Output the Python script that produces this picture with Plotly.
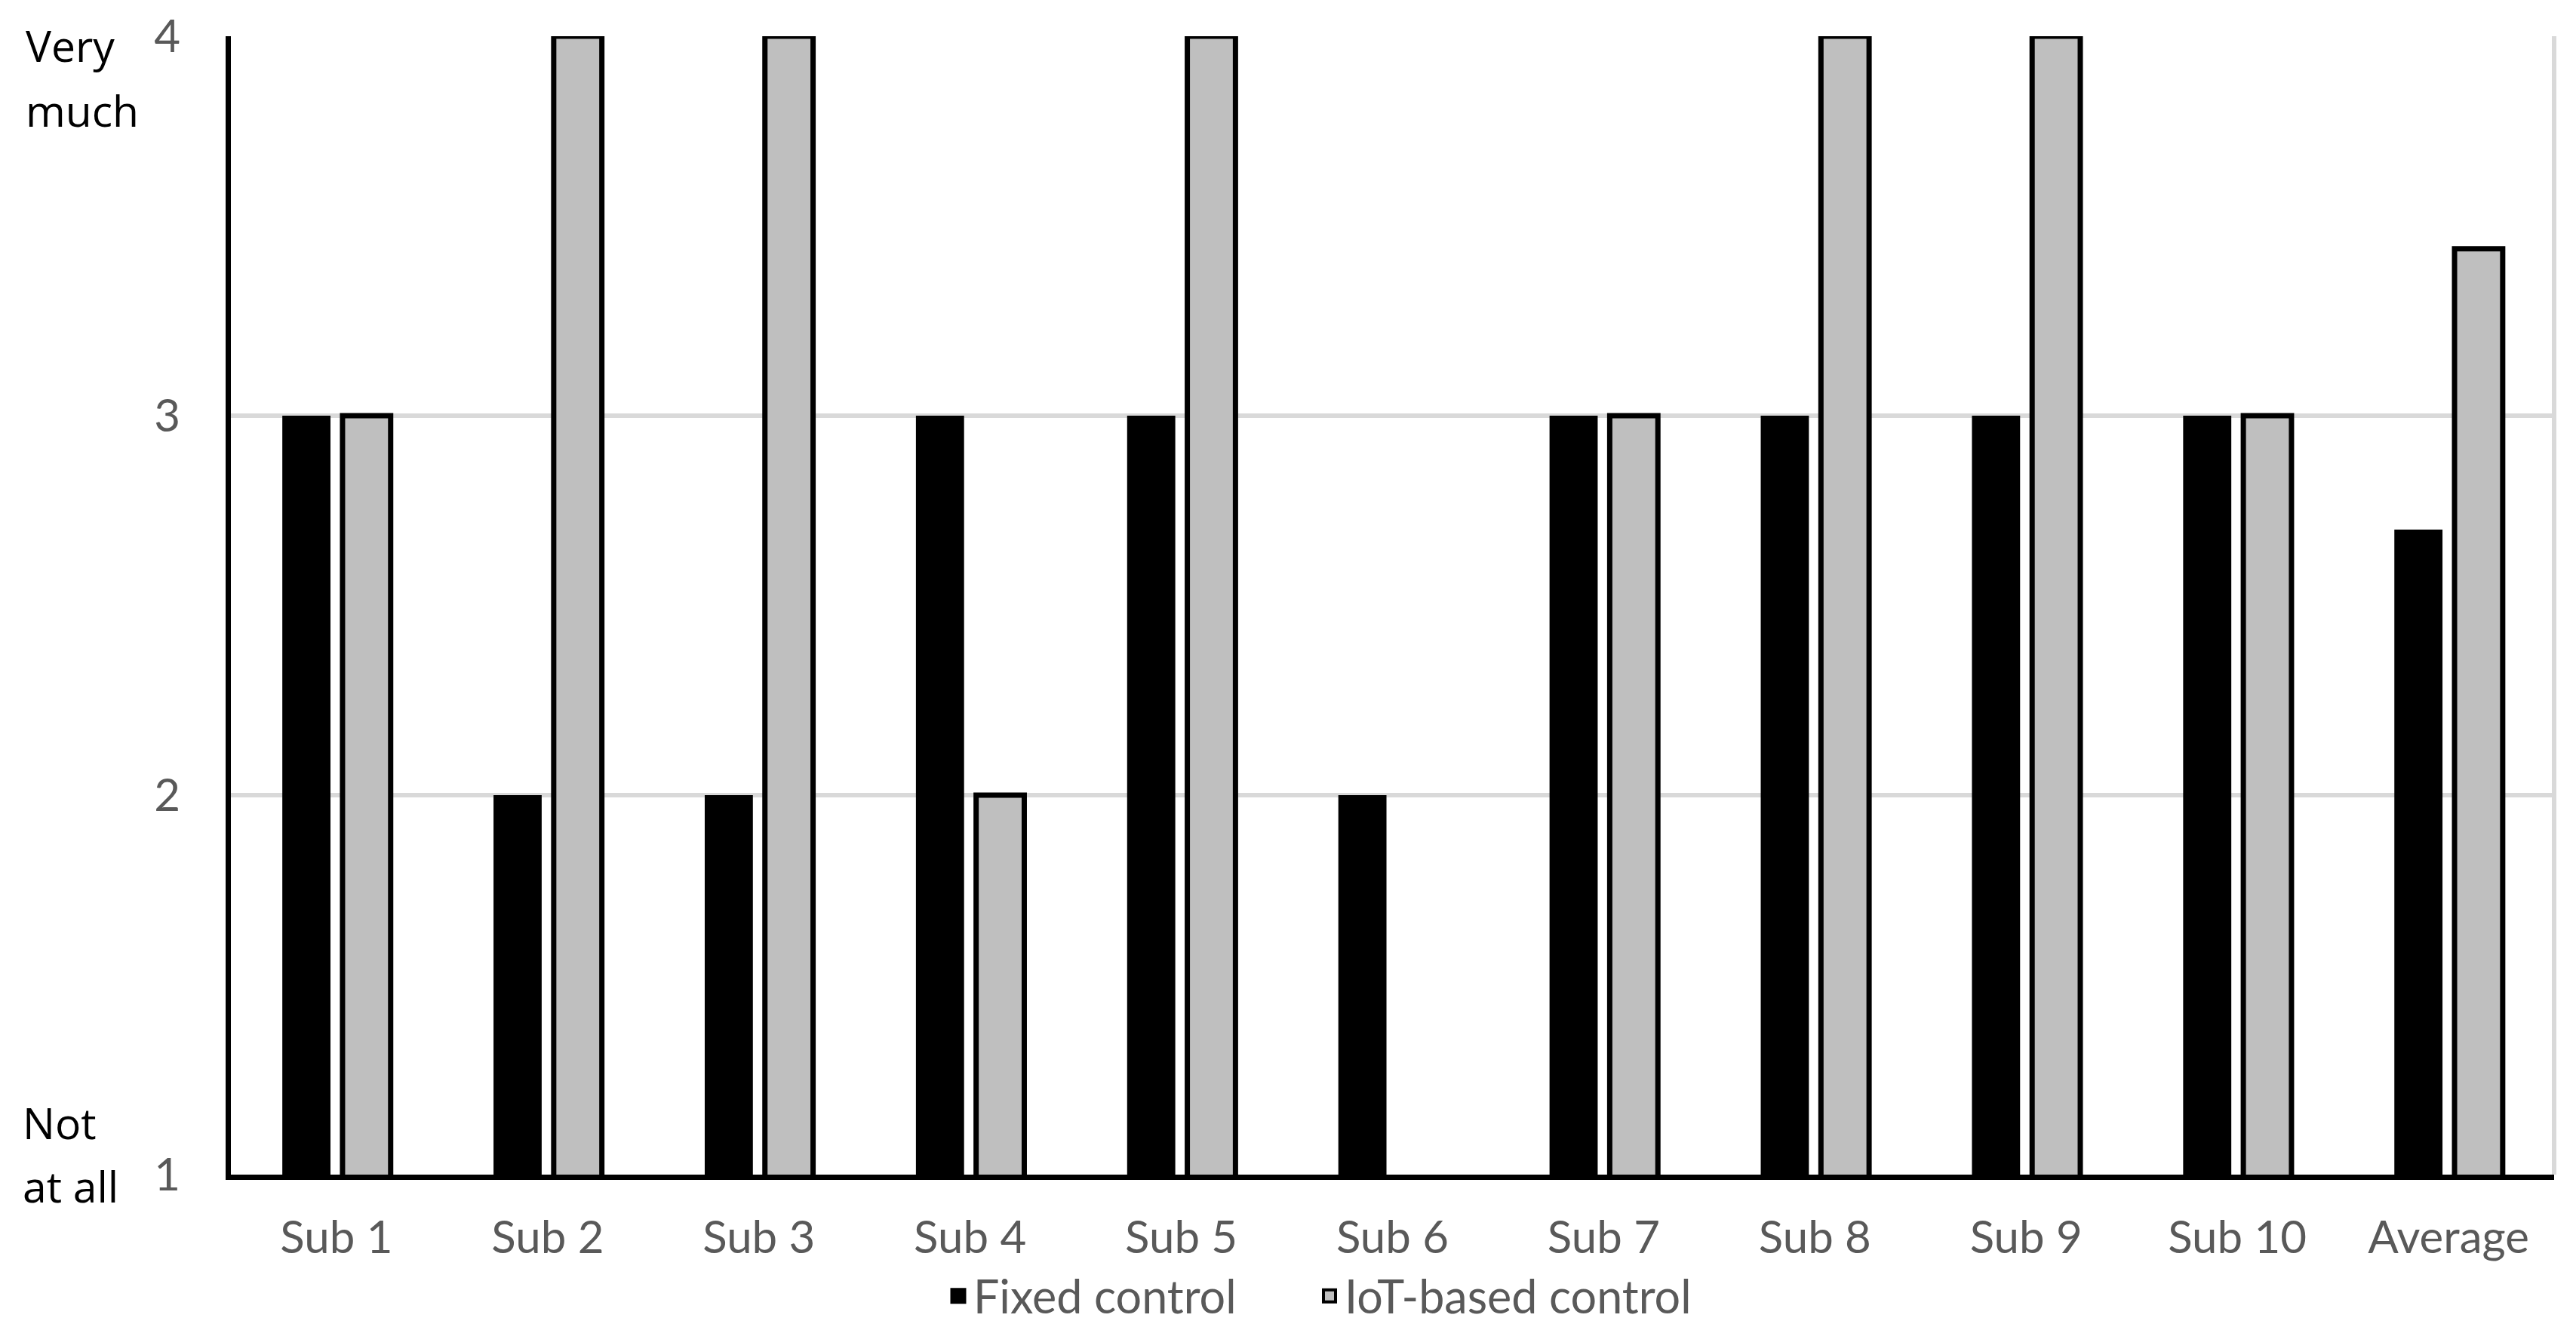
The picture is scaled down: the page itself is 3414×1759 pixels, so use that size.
import plotly.graph_objects as go

categories = ["Sub 1", "Sub 2", "Sub 3", "Sub 4", "Sub 5", "Sub 6", "Sub 7", "Sub 8", "Sub 9", "Sub 10", "Average"]
fixed_control = [3, 2, 2, 3, 3, 2, 3, 3, 3, 3, 2.7]
iot_control = [3, 4, 4, 2, 4, None, 3, 4, 4, 3, 3.44]
y_ticks = [1, 2, 3, 4]
series_names = ["Fixed control", "IoT-based control"]

W, H = 3414, 1759
ML, MR, MT, MB = 306, 29, 48, 202
PW = W - ML - MR
PH = H - MT - MB

fixed_style = dict(color="#000000", line=dict(width=0))
iot_style = dict(color="#BFBFBF", line=dict(color="#000000", width=7))

fig = go.Figure()
fig.add_trace(go.Bar(
    x=categories, y=fixed_control, name=series_names[0], legendgroup="f",
    showlegend=False, marker=fixed_style,
))
fig.add_trace(go.Bar(
    x=categories, y=iot_control, name=series_names[1], legendgroup="i",
    showlegend=False, marker=iot_style,
))
# legend entries (square swatches), one legend box per series
fig.add_trace(go.Scatter(
    x=[None], y=[None], mode="markers", name=series_names[0], legendgroup="f",
    legend="legend",
    marker=dict(symbol="square", size=30, color="#000000", line=dict(color="#000000", width=5)),
))
fig.add_trace(go.Scatter(
    x=[None], y=[None], mode="markers", name=series_names[1], legendgroup="i",
    legend="legend2",
    marker=dict(symbol="square", size=30, color="#BFBFBF", line=dict(color="#000000", width=4)),
))

tick_font = dict(family="Lato, Carlito, Calibri, sans-serif", size=60, color="#595959")
legend_font = dict(family="Lato, Carlito, Calibri, sans-serif", size=61, color="#595959")
side_font = dict(family="Open Sans, Noto Sans, sans-serif", size=57, color="#000000")


def py(full_y):
    return 1 - (full_y - MT) / PH


def px(full_x):
    return (full_x - ML) / PW


def legend_box(x_full):
    return dict(
        orientation="h", xref="paper", x=px(x_full), xanchor="left",
        yref="container", y=(H - 1718) / H, yanchor="middle",
        bgcolor="rgba(0,0,0,0)", font=legend_font,
        itemsizing="trace", tracegroupgap=0,
    )


fig.update_layout(
    width=W, height=H,
    margin=dict(l=ML, r=MR, t=MT, b=MB, autoexpand=False),
    paper_bgcolor="white", plot_bgcolor="white",
    barmode="group", bargap=0.43, bargroupgap=0.2,
    showlegend=True,
    legend=legend_box(1250),
    legend2=legend_box(1742),
    xaxis=dict(
        showgrid=False, showline=True, linecolor="#000000", linewidth=7,
        ticks="", tickfont=tick_font, ticklabelstandoff=25,
    ),
    yaxis=dict(
        range=[1, 4], tickvals=y_ticks, ticktext=[str(v) for v in y_ticks],
        showgrid=True, gridcolor="#D9D9D9", gridwidth=6,
        showline=True, linecolor="#000000", linewidth=7,
        zeroline=False, ticks="", tickfont=tick_font, ticklabelstandoff=48,
    ),
    shapes=[
        dict(type="line", xref="paper", yref="paper", x0=1, x1=1, y0=0, y1=1,
             line=dict(color="#D9D9D9", width=6), layer="below"),
    ],
    annotations=[
        dict(text=t, xref="paper", yref="paper", x=px(xx), y=py(yy),
             xanchor="left", yanchor="middle", showarrow=False, font=side_font)
        for t, xx, yy in [
            ("Very", 32, 60),
            ("much", 32, 146),
            ("Not", 28, 1488),
            ("at all", 28, 1572),
        ]
    ],
)

fig.write_html("out.html", config={"displayModeBar": False},
               post_script="document.body.style.margin='0';")
